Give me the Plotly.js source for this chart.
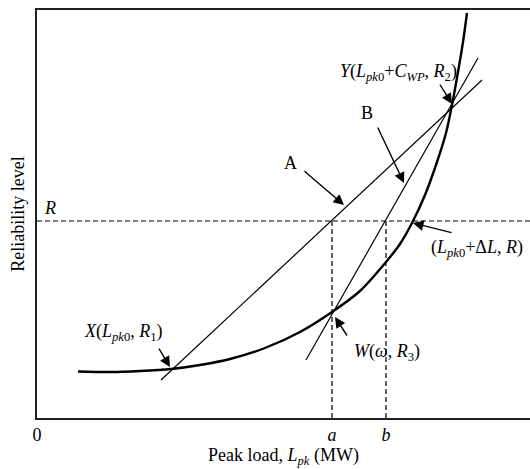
<!DOCTYPE html>
<html>
<head>
<meta charset="utf-8">
<script src="https://cdn.plot.ly/plotly-3.0.1.min.js"></script>
<style>html,body{margin:0;padding:0;background:#fff;}#chart{width:530px;height:469px;}</style>
</head>
<body>
<div id="chart"></div>
<script>
// Reliability curve (schematic units)
const curveX = [41, 73, 103, 134, 163, 193, 228, 263, 295, 323, 349, 363, 376, 388, 400, 409, 415, 421, 426, 430];
const curveY = [46.5, 46, 47, 49, 53, 59, 70, 86, 106, 127, 156, 174, 197, 223, 256, 285, 313, 346, 376, 405];
// Line A (through X and Y)
const lineAX = [124, 445];
const lineAY = [38, 338];
// Line B (through W and Y)
const lineBX = [269, 441];
const lineBY = [58, 360];
// Reliability level R and loads a, b
const levelR = 197;
const loadA = 295;
const loadB = 349;
const xMax = 493;
const yMax = 408;
const tickVals = [0, loadA, loadB];
const tickText = ['0', '<i>a</i>', '<i>b</i>'];

const font = {family: '"Liberation Serif", "Times New Roman", serif', size: 18, color: '#000'};

const traces = [
  {x: curveX, y: curveY, mode: 'lines', line: {color: '#000', width: 2.4, shape: 'spline', smoothing: 0.8}, hoverinfo: 'none'},
  {x: lineAX, y: lineAY, mode: 'lines', line: {color: '#000', width: 1.2}, hoverinfo: 'none'},
  {x: lineBX, y: lineBY, mode: 'lines', line: {color: '#000', width: 1.2}, hoverinfo: 'none'},
  {x: [0, xMax], y: [levelR, levelR], mode: 'lines', line: {color: '#000', width: 1.2, dash: '5px,3px'}, hoverinfo: 'none'},
  {x: [loadA, loadA], y: [0, levelR], mode: 'lines', line: {color: '#000', width: 1.2, dash: '5px,3px'}, hoverinfo: 'none'},
  {x: [loadB, loadB], y: [0, levelR], mode: 'lines', line: {color: '#000', width: 1.2, dash: '5px,3px'}, hoverinfo: 'none'}
];

function arrow(hx, hy, tx, ty) {
  return {x: hx, y: hy, ax: tx, ay: ty, xref: 'x', yref: 'y', axref: 'x', ayref: 'y', text: '',
    showarrow: true, arrowhead: 2, arrowsize: 1.5, arrowwidth: 1.4, arrowcolor: '#000', standoff: 0, startstandoff: 0};
}
function label(x, y, text) {
  return {x: x, y: y, xref: 'x', yref: 'y', text: text, showarrow: false, font: font, xanchor: 'center', yanchor: 'middle'};
}

const annotations = [
  label(13, 210, '<i>R</i>'),
  label(253, 255, 'A'),
  arrow(307, 213, 266, 248),
  label(330, 305, 'B'),
  arrow(367, 235, 340, 292),
  label(361, 346, '<i>Y</i>(<i>L</i><sub><i>pk</i>0</sub>+<i>C</i><sub><i>WP</i></sub>, <i>R</i><sub>2</sub>)'),
  arrow(415, 314, 402, 335),
  label(440, 170, '(<i>L</i><sub><i>pk</i>0</sub>+Δ<i>L</i>, <i>R</i>)'),
  arrow(376, 195, 416, 185),
  label(350, 66, '<i>W</i>(<i>ω</i>, <i>R</i><sub>3</sub>)'),
  arrow(298, 101, 311, 81),
  label(86, 86, '<i>X</i>(<i>L</i><sub><i>pk</i>0</sub>, <i>R</i><sub>1</sub>)'),
  arrow(133, 51, 121, 71)
];

const layout = {
  width: 530, height: 469,
  margin: {l: 37, r: 0, t: 10, b: 51},
  paper_bgcolor: '#fff', plot_bgcolor: '#fff',
  showlegend: false,
  font: font,
  xaxis: {
    range: [0, xMax], showgrid: false, zeroline: false, showline: true, mirror: true,
    linecolor: '#222', linewidth: 1.6, ticks: '', tickvals: tickVals, ticktext: tickText,
    tickfont: font, fixedrange: true,
    title: {text: 'Peak load, <i>L</i><sub><i>pk</i></sub> (MW)', font: font, standoff: 4}
  },
  yaxis: {
    range: [0, yMax], showgrid: false, zeroline: false, showline: true, mirror: false,
    linecolor: '#222', linewidth: 1.6, ticks: '', showticklabels: false, fixedrange: true,
    title: {text: 'Reliability level', font: font, standoff: 6}
  },
  annotations: annotations
};

Plotly.newPlot('chart', traces, layout, {staticPlot: true, displayModeBar: false});
</script>
</body>
</html>
